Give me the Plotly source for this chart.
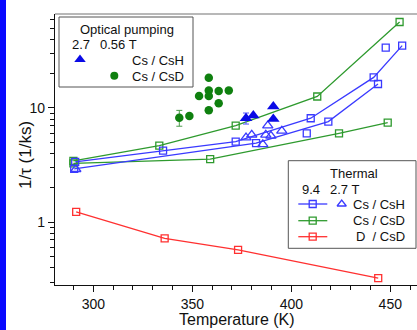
import plotly.graph_objects as go

# ---------------- data ----------------
# Thermal, 9.4 T, Cs / CsH (two runs, lines)
csh_a_T = [290.8, 335.2, 371.9, 409.8, 441.6, 456.0]
csh_a_v = [3.37, 4.23, 5.07, 8.13, 18.5, 35.1]
csh_b_T = [290.3, 382.2, 418.7, 443.8]
csh_b_v = [2.93, 4.93, 7.6, 16.2]
# isolated thermal Cs / CsH squares
csh_c_T = [407.8, 447.7]
csh_c_v = [6.0, 33.7]
# Thermal, 2.7 T, Cs / CsH (open triangles)
csh27_T = [291.1, 377.1, 380.0, 385.6, 387.1, 388.1, 389.7, 395.2]
csh27_v = [2.91, 5.50, 5.81, 4.81, 5.81, 7.00, 5.69, 6.30]
# Thermal, 9.4 T, Cs / CsD (two runs)
csd_a_T = [289.9, 333.3, 371.9, 413.1, 454.7]
csd_a_v = [3.44, 4.68, 7.00, 12.6, 56.5]
csd_b_T = [289.9, 359.0, 424.1, 448.7]
csd_b_v = [3.28, 3.56, 6.0, 7.43]
# Thermal, D / CsD
dcsd_T = [291.3, 336.0, 373.1, 443.9]
dcsd_v = [1.23, 0.724, 0.573, 0.324]
# Optical pumping, 2.7 T, Cs / CsH
op_csh_T = [377.1, 380.8, 390.9, 390.9]
op_csh_v = [8.13, 8.58, 10.3, 8.01]
op_csh_err = [0.9, 0, 0, 0]
# Optical pumping, 0.56 T, Cs / CsD
op_csd_T = [343.4, 348.5, 358.3, 353.4, 358.3, 358.3, 363.3, 368.4, 363.3, 358.3]
op_csd_v = [8.22, 8.51, 18.4, 12.7, 14.2, 12.7, 14.1, 14.2, 11.0, 9.55]
op_csd_err = [1.3, 0, 0, 0, 0, 0, 0, 0, 0, 0]

x_ticks = [300, 350, 400, 450]
y_ticks = [1, 10]
y_minor = [0.3, 0.4, 0.5, 0.6, 0.7, 0.8, 0.9, 2, 3, 4, 5, 6, 7, 8, 9, 20, 30, 40, 50, 60]

BLUE = "#3a3aff"
GREEN = "#2e9a2e"
RED = "#ff3030"
DBLUE = "#0a0ae6"
DGREEN = "#0f800f"
FONT = "Liberation Sans, Arial, sans-serif"

fig = go.Figure()

sq = dict(symbol="square-open", size=7, line=dict(width=1.3))

fig.add_trace(go.Scatter(x=csd_a_T, y=csd_a_v, mode="lines+markers",
                         line=dict(color=GREEN, width=1.3), marker=dict(color=GREEN, **sq)))
fig.add_trace(go.Scatter(x=csd_b_T, y=csd_b_v, mode="lines+markers",
                         line=dict(color=GREEN, width=1.3), marker=dict(color=GREEN, **sq)))
fig.add_trace(go.Scatter(x=csh_a_T, y=csh_a_v, mode="lines+markers",
                         line=dict(color=BLUE, width=1.3), marker=dict(color=BLUE, **sq)))
fig.add_trace(go.Scatter(x=csh_b_T, y=csh_b_v, mode="lines+markers",
                         line=dict(color=BLUE, width=1.3), marker=dict(color=BLUE, **sq)))
fig.add_trace(go.Scatter(x=csh_c_T, y=csh_c_v, mode="markers",
                         marker=dict(color=BLUE, **sq)))
fig.add_trace(go.Scatter(x=csh27_T, y=csh27_v, mode="markers",
                         marker=dict(color=BLUE, symbol="triangle-up-open", size=9, line=dict(width=1.3))))
fig.add_trace(go.Scatter(x=dcsd_T, y=dcsd_v, mode="lines+markers",
                         line=dict(color=RED, width=1.3), marker=dict(color=RED, **sq)))
fig.add_trace(go.Scatter(x=op_csd_T, y=op_csd_v, mode="markers",
                         error_y=dict(type="data", array=op_csd_err, color="#4c9a4c", thickness=1, width=3),
                         marker=dict(color=DGREEN, symbol="circle", size=8.5)))
fig.add_trace(go.Scatter(x=op_csh_T, y=op_csh_v, mode="markers",
                         error_y=dict(type="data", array=op_csh_err, color="#5050ff", thickness=1, width=3),
                         marker=dict(color=DBLUE, symbol="triangle-up", size=11)))

# ---------- legend glyphs on overlay pixel axes ----------
def g(x, y, **kw):
    fig.add_trace(go.Scatter(x=x, y=y, xaxis="x2", yaxis="y2", hoverinfo="skip", **kw))

g([80], [59.5], mode="markers", marker=dict(color=DBLUE, symbol="triangle-up", size=10))
g([114.3], [75.7], mode="markers", marker=dict(color=DGREEN, symbol="circle", size=8))
g([298.3, 327.3], [204, 204], mode="lines", line=dict(color=BLUE, width=1.3))
g([312.7], [204], mode="markers", marker=dict(color=BLUE, **sq))
g([341.7], [204], mode="markers", marker=dict(color=BLUE, symbol="triangle-up-open", size=8, line=dict(width=1.3)))
g([298.3, 327.3], [220.7, 220.7], mode="lines", line=dict(color=GREEN, width=1.3))
g([312.7], [220.7], mode="markers", marker=dict(color=GREEN, **sq))
g([298.3, 327.3], [236.7, 236.7], mode="lines", line=dict(color=RED, width=1.3))
g([312.7], [236.7], mode="markers", marker=dict(color=RED, **sq))

W, H = 417, 330
L, R, T, B = 55, 417, 14, 285


def px(x):
    return (x - L) / (R - L)


def py(y):
    return (B - y) / (B - T)


shapes = [
    # top frame line
    dict(type="line", xref="paper", yref="paper", x0=0, x1=1, y0=1, y1=1,
         line=dict(color="#a0a0a0", width=1.5)),
    # blue strip at left edge
    dict(type="rect", xref="paper", yref="paper", x0=px(0), x1=px(6), y0=py(335), y1=py(-5),
         fillcolor="#0808ff", line=dict(width=0)),
    # legend boxes
    dict(type="rect", xref="paper", yref="paper", x0=px(59), x1=px(193), y0=py(87), y1=py(17),
         fillcolor="white", line=dict(color="#555555", width=1), layer="below"),
    dict(type="rect", xref="paper", yref="paper", x0=px(288.3), x1=px(416), y0=py(248.3), y1=py(160.7),
         fillcolor="white", line=dict(color="#555555", width=1), layer="below"),
]

ann = []


def txt(s, x, y, xanchor="center", size=13):
    ann.append(dict(text=s, xref="paper", yref="paper", x=px(x), y=py(y), xanchor=xanchor,
                    yanchor="middle", showarrow=False, font=dict(size=size, color="#111", family=FONT)))


txt("Optical pumping", 126.7, 29.5)
txt("2.7", 80.7, 44.5)
txt("0.56 T", 118, 44.5)
txt("Cs / CsH", 186, 60.5, "right")
txt("Cs / CsD", 186, 76.5, "right")
txt("Thermal", 354, 173.5)
txt("9.4", 310.7, 189.5)
txt("2.7 T", 344.3, 189.5)
txt("Cs / CsH", 407, 204.5, "right")
txt("Cs / CsD", 407, 220.7, "right")
txt("D  / CsD", 407, 236.7, "right")

ann.append(dict(text="1/τ (1/ks)", xref="paper", yref="paper", x=px(25), y=py(155), textangle=-90,
                xanchor="center", yanchor="middle", showarrow=False,
                font=dict(size=17, color="#111", family=FONT)))
ann.append(dict(text="Temperature (K)", xref="paper", yref="paper", x=px(237), y=py(319),
                xanchor="center", yanchor="middle", showarrow=False,
                font=dict(size=16, color="#111", family=FONT)))

fig.update_layout(
    width=W, height=H,
    margin=dict(l=L, r=W - R, t=T, b=H - B),
    paper_bgcolor="white", plot_bgcolor="white",
    showlegend=False,
    font=dict(family=FONT, size=14, color="#111"),
    shapes=shapes, annotations=ann,
    xaxis=dict(range=[280.6, 463.5], showgrid=False, zeroline=False,
               showline=True, linecolor="#111", linewidth=1.3,
               tickmode="array", tickvals=x_ticks, ticks="outside", ticklen=6, tickcolor="#111",
               tickfont=dict(size=14),
               minor=dict(dtick=10, tick0=0, ticks="outside", ticklen=4, tickcolor="#111")),
    yaxis=dict(type="log", range=[-0.549, 1.822], showgrid=False, zeroline=False,
               showline=True, linecolor="#111", linewidth=1.3,
               tickmode="array", tickvals=y_ticks, ticktext=["1", "10"],
               ticks="outside", ticklen=6, tickcolor="#111", tickfont=dict(size=14),
               minor=dict(tickmode="array", tickvals=y_minor, ticks="outside", ticklen=4, tickcolor="#111")),
    xaxis2=dict(overlaying="x", range=[L, R], visible=False, domain=[0, 1]),
    yaxis2=dict(overlaying="y", range=[B, T], visible=False, domain=[0, 1]),
)

fig.write_html("out.html", config={"displayModeBar": False},
               post_script="document.body.style.margin='0px';document.body.style.overflow='hidden';")
